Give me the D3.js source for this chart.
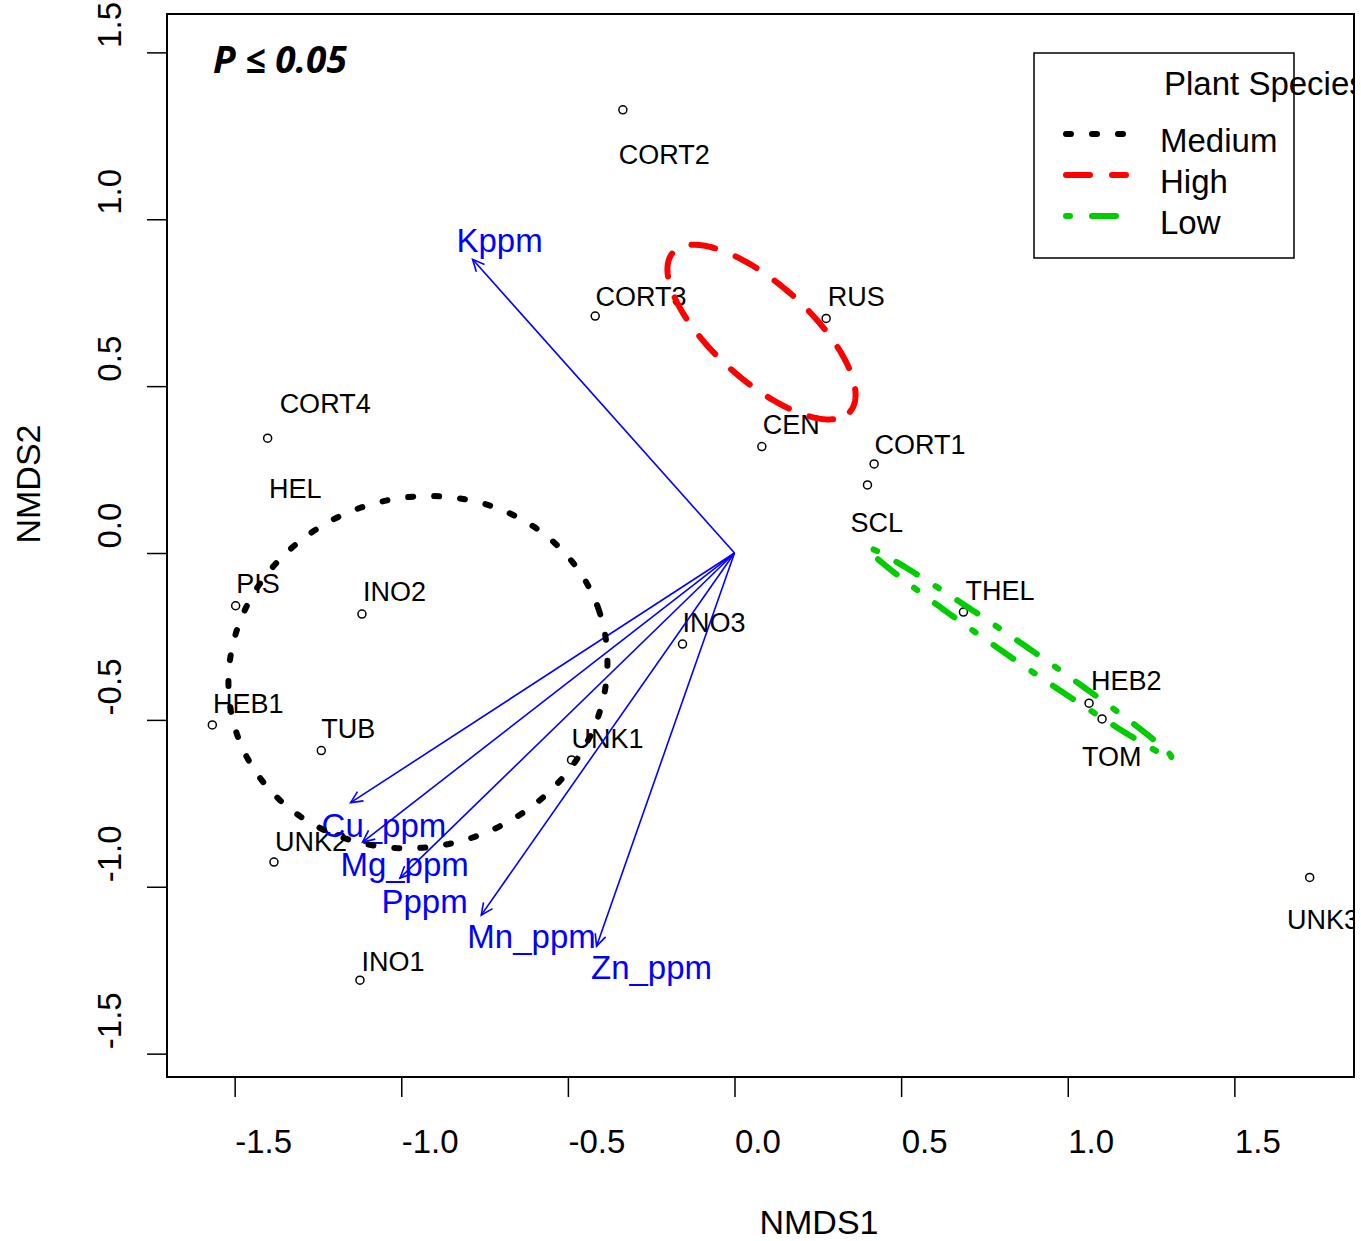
<!DOCTYPE html>
<html>
<head>
<meta charset="utf-8">
<script src="https://cdn.jsdelivr.net/npm/d3@7"></script>
<style>
  body { margin: 0; background: #fff; }
  svg text { font-family: "Liberation Sans", Arial, sans-serif; }
</style>
</head>
<body>
<svg id="chart"></svg>
<script>
// site scores (NMDS1, NMDS2) and where their labels sit
const siteNames = ["CORT2", "CORT3", "RUS", "CORT4", "HEL", "CEN", "CORT1", "SCL", "PIS", "INO2",
                   "INO3", "THEL", "HEB2", "TOM", "HEB1", "TUB", "UNK1", "UNK2", "UNK3", "INO1"];
const siteX = [-0.335, -0.418, 0.275, -1.401, null, 0.082, 0.419, 0.399, -1.497, -1.118,
               -0.156, 0.687, 1.064, 1.103, -1.567, -1.240, -0.489, -1.382, 1.726, -1.124];
const siteY = [1.328, 0.710, 0.703, 0.344, null, 0.319, 0.267, 0.204, -0.158, -0.183,
               -0.273, -0.177, -0.450, -0.497, -0.515, -0.592, -0.620, -0.926, -0.972, -1.280];
const labelX = [-0.347, -0.417, 0.280, -1.365, -1.397, 0.085, 0.420, 0.348, -1.495, -1.115,
                -0.156, 0.693, 1.070, 1.043, -1.565, -1.240, -0.489, -1.379, 1.658, -1.119];
const labelY = [1.196, 0.770, 0.770, 0.450, 0.195, 0.387, 0.327, 0.093, -0.090, -0.114,
                -0.207, -0.111, -0.381, -0.608, -0.450, -0.524, -0.554, -0.863, -1.097, -1.223];

// envfit vectors
const vecNames = ["Kppm", "Cu_ppm", "Mg_ppm", "Pppm", "Mn_ppm", "Zn_ppm"];
const vecX = [-0.786, -1.152, -1.116, -1.004, -0.760, -0.414];
const vecY = [0.880, -0.748, -0.866, -0.974, -1.085, -1.178];
const vecLabX = [-0.705, -1.052, -0.990, -0.930, -0.609, -0.249];
const vecLabY = [0.938, -0.815, -0.932, -1.043, -1.148, -1.241];

// ordiellipse groups
const groupNames = ["Medium", "High", "Low"];
const groupCx = [-0.950, 0.081, 0.855];
const groupCy = [-0.357, 0.662, -0.298];
const groupA = [0.574, 0.357, 0.553];
const groupB = [0.522, 0.144, 0.026];
const groupAngle = [19, -42, -34.5];
const groupColors = ["#000000", "#FF0000", "#00CD00"];
const groupDash = ["5 21", "24 22", "4 22 24 22"];

const xTicks = [-1.5, -1.0, -0.5, 0.0, 0.5, 1.0, 1.5];
const xTickLabels = ["-1.5", "-1.0", "-0.5", "0.0", "0.5", "1.0", "1.5"];
const yTicks = [-1.5, -1.0, -0.5, 0.0, 0.5, 1.0, 1.5];
const yTickLabels = ["-1.5", "-1.0", "-0.5", "0.0", "0.5", "1.0", "1.5"];

const width = 1361, height = 1241;
const box = { left: 167, top: 14, right: 1354, bottom: 1077 };

const svg = d3.select('#chart').attr('width', width).attr('height', height);

const x = d3.scaleLinear().domain([-1.703, 1.859]).range([box.left, box.right]);
const y = d3.scaleLinear().domain([-1.570, 1.615]).range([box.bottom, box.top]);

svg.append('defs').append('clipPath').attr('id', 'plotclip')
    .append('rect')
    .attr('x', box.left).attr('y', box.top)
    .attr('width', box.right - box.left).attr('height', box.bottom - box.top);

// axes
const xAxis = svg.append('g')
    .attr('transform', `translate(0,${box.bottom})`)
    .call(d3.axisBottom(x).tickValues(xTicks).tickSize(20).tickFormat((d, i) => xTickLabels[i]));
xAxis.select('.domain').remove();
xAxis.selectAll('line').attr('stroke', '#000').attr('stroke-width', 1.5);
xAxis.selectAll('text')
    .attr('y', 64).attr('dy', '0.36em').attr('x', 0)
    .attr('text-anchor', 'start')
    .attr('font-size', 33).attr('fill', '#000')
    .style('font-family', '"Liberation Sans", Arial, sans-serif');

const yAxis = svg.append('g')
    .attr('transform', `translate(${box.left},0)`)
    .call(d3.axisLeft(y).tickValues(yTicks).tickSize(20).tickFormat((d, i) => yTickLabels[i]));
yAxis.select('.domain').remove();
yAxis.selectAll('line').attr('stroke', '#000').attr('stroke-width', 1.5);
yAxis.selectAll('text')
    .attr('x', 0).attr('y', 0).attr('dy', 0)
    .attr('transform', 'translate(-46,-5) rotate(-90)')
    .attr('text-anchor', 'start')
    .attr('font-size', 33).attr('fill', '#000')
    .style('font-family', '"Liberation Sans", Arial, sans-serif');

svg.append('text')
    .attr('x', 819).attr('y', 1234)
    .attr('text-anchor', 'middle')
    .attr('font-size', 34)
    .text('NMDS1');

svg.append('text')
    .attr('transform', 'translate(40,484) rotate(-90)')
    .attr('text-anchor', 'middle')
    .attr('font-size', 34)
    .text('NMDS2');

const plot = svg.append('g').attr('clip-path', 'url(#plotclip)');

// sites
const sites = siteNames.map((name, i) => ({ name, x: siteX[i], y: siteY[i], lx: labelX[i], ly: labelY[i] }));

plot.selectAll('circle.site')
    .data(sites.filter(d => d.x !== null))
    .enter()
    .append('circle')
    .attr('class', 'site')
    .attr('cx', d => x(d.x))
    .attr('cy', d => y(d.y))
    .attr('r', 4)
    .attr('fill', 'none')
    .attr('stroke', '#000')
    .attr('stroke-width', 1.5);

plot.selectAll('text.site')
    .data(sites)
    .enter()
    .append('text')
    .attr('class', 'site')
    .attr('x', d => x(d.lx))
    .attr('y', d => y(d.ly))
    .attr('dy', '0.36em')
    .attr('font-size', 27)
    .attr('fill', '#000')
    .text(d => d.name);

// vectors
const vecs = vecNames.map((name, i) => ({ name, x: vecX[i], y: vecY[i], lx: vecLabX[i], ly: vecLabY[i] }));
const x0 = x(0), y0 = y(0);
const headLen = 13, headAng = 25 * Math.PI / 180;

let arrows = plot.selectAll('g.vec')
    .data(vecs)
    .enter()
    .append('g')
    .attr('class', 'vec')
    .attr('stroke', '#0000FF')
    .attr('stroke-width', 1.6)
    .attr('fill', 'none');

arrows.append('line')
    .attr('x1', x0).attr('y1', y0)
    .attr('x2', d => x(d.x)).attr('y2', d => y(d.y));

arrows.append('path')
    .attr('d', d => {
        let tx = x(d.x), ty = y(d.y);
        let a = Math.atan2(ty - y0, tx - x0);
        let p1 = [tx - headLen * Math.cos(a - headAng), ty - headLen * Math.sin(a - headAng)];
        let p2 = [tx - headLen * Math.cos(a + headAng), ty - headLen * Math.sin(a + headAng)];
        return `M${p1}L${tx},${ty}L${p2}`;
    });

plot.selectAll('text.vec')
    .data(vecs)
    .enter()
    .append('text')
    .attr('class', 'vec')
    .attr('x', d => x(d.lx))
    .attr('y', d => y(d.ly))
    .attr('dy', '0.36em')
    .attr('text-anchor', 'middle')
    .attr('font-size', 33)
    .attr('fill', '#0000FF')
    .text(d => d.name);

// ellipses
const groups = groupNames.map((name, i) => ({
    name, cx: groupCx[i], cy: groupCy[i], a: groupA[i], b: groupB[i],
    angle: groupAngle[i], color: groupColors[i], dash: groupDash[i]
}));

const ellipsePts = g => {
    let th = g.angle * Math.PI / 180;
    return d3.range(0, 361, 2).map(t => {
        let r = t * Math.PI / 180;
        let ex = g.a * Math.cos(r), ey = g.b * Math.sin(r);
        return [x(g.cx + ex * Math.cos(th) - ey * Math.sin(th)),
                y(g.cy + ex * Math.sin(th) + ey * Math.cos(th))];
    });
};

plot.selectAll('path.ell')
    .data(groups)
    .enter()
    .append('path')
    .attr('class', 'ell')
    .attr('d', g => d3.line()(ellipsePts(g)))
    .attr('fill', 'none')
    .attr('stroke', g => g.color)
    .attr('stroke-width', 6)
    .attr('stroke-linecap', 'round')
    .attr('stroke-dasharray', g => g.dash);

// p-value note
plot.append('text')
    .attr('x', 213).attr('y', 73)
    .attr('font-size', 37)
    .attr('font-weight', 'bold')
    .attr('font-style', 'italic')
    .style('font-family', '"Open Sans", "Noto Sans", sans-serif')
    .text('P \u2264 0.05');

// legend
const lg = plot.append('g');
lg.append('rect')
    .attr('x', 1034).attr('y', 53)
    .attr('width', 260).attr('height', 205)
    .attr('fill', '#fff')
    .attr('stroke', '#000')
    .attr('stroke-width', 1.5);

lg.append('text')
    .attr('x', 1164).attr('y', 95)
    .attr('font-size', 33)
    .text('Plant Species');

let items = lg.selectAll('g.item')
    .data(groups)
    .enter()
    .append('g')
    .attr('class', 'item')
    .attr('transform', (d, i) => `translate(0,${i * 41})`);

items.append('line')
    .attr('x1', 1066).attr('x2', 1126)
    .attr('y1', 134).attr('y2', 134)
    .attr('stroke', d => d.color)
    .attr('stroke-width', 6)
    .attr('stroke-linecap', 'round')
    .attr('stroke-dasharray', d => d.dash);

items.append('text')
    .attr('x', 1160).attr('y', 152)
    .attr('font-size', 33)
    .text(d => d.name);

// frame
svg.append('rect')
    .attr('x', box.left).attr('y', box.top)
    .attr('width', box.right - box.left).attr('height', box.bottom - box.top)
    .attr('fill', 'none')
    .attr('stroke', '#000')
    .attr('stroke-width', 2);
</script>
</body>
</html>
